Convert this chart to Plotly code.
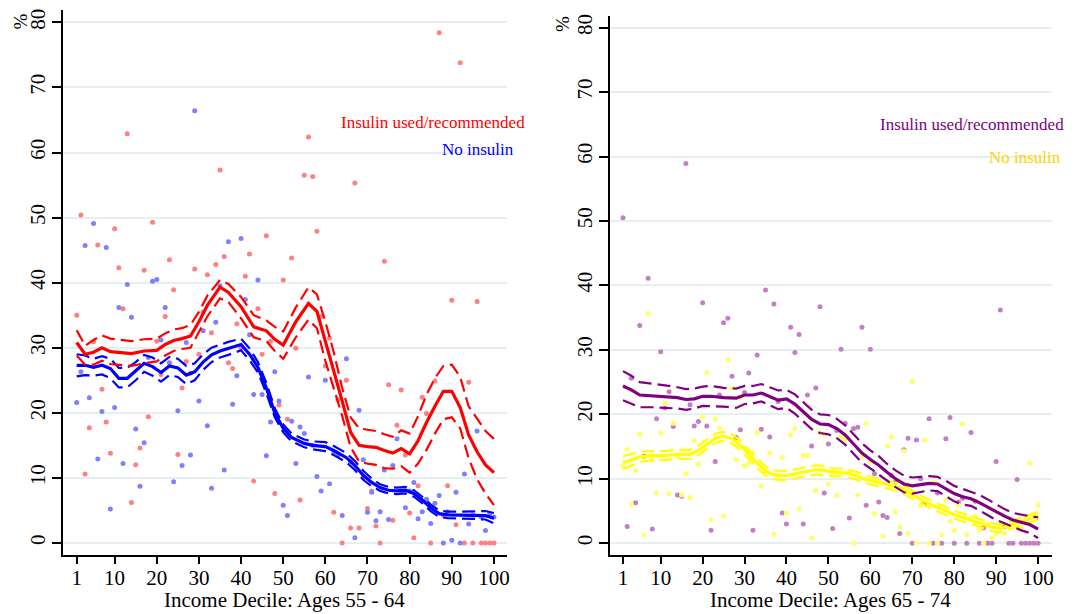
import plotly.graph_objects as go

FONT = "Liberation Serif, Tinos, Times New Roman, DejaVu Serif, serif"

# ---------------- data ----------------
pct = list(range(1, 101))
x_ticks = [1, 10, 20, 30, 40, 50, 60, 70, 80, 90, 100]
y_ticks = [0, 10, 20, 30, 40, 50, 60, 70, 80]

# Ages 55-64, scatter (% per income percentile)
ins_5564 = [35.0, 50.4, 10.6, 17.7, 30.9, 45.8, 23.6, 18.6, 13.8, 48.3,
            42.3, 36.0, 62.9, 6.2, 12.0, 14.6, 41.9, 19.4, 49.3, 31.0,
            25.9, 34.8, 43.5, 38.9, 13.6, 23.8, 27.9, 26.1, 42.1, 29.0,
            35.5, 41.2, 32.3, 42.8, 57.3, 44.0, 27.7, 26.8, 33.7, 30.0,
            41.0, 44.4, 9.5, 36.0, 29.0, 47.2, 31.0, 7.6, 21.2, 40.4,
            19.0, 43.8, 29.9, 6.6, 56.5, 62.4, 56.3, 47.9, 34.8, 27.2,
            31.5, 4.7, 22.0, 0.0, 25.0, 2.3, 55.3, 2.3, 10.0, 5.3,
            8.0, 2.6, 0.0, 43.3, 24.3, 3.5, 18.1, 23.5, 13.5, 4.6,
            0.8, 8.8, 22.4, 19.9, 0.0, 24.9, 78.4, 4.2, 8.8, 37.3,
            2.8, 73.8, 0.0, 24.7, 0.0, 37.1, 0.0, 0.0, 0.0, 0.0]
noins_5564 = [21.6, 26.3, 45.7, 22.3, 49.1, 12.9, 20.2, 45.4, 5.2, 20.8,
              36.2, 12.2, 39.7, 34.7, 17.5, 8.7, 15.4, 28.5, 40.2, 40.5,
              31.2, 36.2, 27.7, 9.4, 20.3, 11.9, 30.8, 13.5, 66.4, 21.8,
              32.6, 18.0, 8.4, 33.9, 39.5, 11.2, 46.3, 21.3, 25.7, 46.8,
              37.4, 32.0, 22.8, 40.4, 22.8, 13.4, 18.6, 26.3, 21.8, 5.8,
              4.2, 18.7, 12.2, 17.8, 16.8, 25.5, 15.0, 10.2, 8.0, 25.0,
              9.1, 14.0, 13.5, 4.2, 28.3, 12.5, 0.8, 20.4, 12.8, 4.7,
              7.8, 3.4, 4.8, 11.2, 3.6, 11.9, 16.0, 8.0, 5.4, 8.0,
              9.3, 3.7, 4.8, 6.7, 3.0, 6.1, 7.3, 0.0, 4.8, 0.4,
              7.8, 0.0, 10.6, 2.9, 4.3, 17.2, 4.0, 1.9, 4.5, 4.0]

# Ages 55-64, smoothed fits with confidence bands
red_x = [1, 3, 5, 7, 9, 11, 14, 17, 20, 22, 24, 26, 28, 30, 32, 35, 37, 40, 43, 46,
         48, 50, 53, 56, 58, 60, 62, 64, 66, 68, 70, 72, 74, 76, 78, 80, 82, 84, 86, 88,
         90, 92, 94, 96, 98, 100]
red_fit = [30.8, 29.0, 29.3, 30.0, 29.4, 29.3, 29.1, 29.5, 29.6, 30.5, 31.1, 31.4, 31.8, 34.0,
           36.5, 39.3, 38.5, 36.3, 33.2, 32.6, 31.3, 30.4, 34.0, 36.8, 35.6, 31.0, 26.5, 21.8,
           17.0, 15.0, 14.8, 14.7, 14.2, 13.8, 14.5, 13.7, 15.7, 18.5, 21.0, 23.3, 23.3, 20.8,
           16.6, 14.0, 12.0, 10.8]
red_hi = [32.7, 30.3, 31.2, 31.9, 31.4, 31.2, 31.0, 31.3, 31.4, 32.2, 32.8, 33.0, 33.5, 35.5,
          38.0, 40.4, 39.8, 37.8, 35.0, 34.2, 33.2, 32.5, 36.2, 39.3, 38.2, 34.0, 29.3, 23.8,
          19.3, 17.6, 17.4, 17.2, 16.7, 16.3, 17.3, 16.8, 19.5, 22.8, 25.3, 27.2, 27.4, 25.5,
          21.0, 19.0, 17.2, 16.0]
red_lo = [28.8, 27.4, 27.4, 28.0, 27.5, 27.4, 27.2, 27.6, 27.9, 28.8, 29.5, 29.8, 30.0, 32.4,
          34.8, 37.6, 37.0, 34.5, 31.6, 31.0, 29.5, 28.3, 31.6, 34.3, 33.0, 28.0, 23.7, 19.5,
          14.7, 12.5, 12.2, 12.0, 11.5, 11.4, 11.8, 10.8, 12.2, 14.3, 16.8, 19.0, 19.3, 17.6,
          13.0, 9.8, 7.6, 5.8]

blue_x = [1, 3, 5, 7, 9, 11, 13, 15, 17, 19, 21, 23, 25, 27, 29, 31, 33, 35, 37, 40,
          42, 44, 46, 48, 50, 52, 55, 57, 60, 62, 65, 67, 69, 71, 73, 75, 77, 79, 81, 83,
          85, 87, 89, 92, 95, 98, 100]
blue_fit = [27.3, 27.3, 27.0, 27.3, 26.8, 25.3, 25.3, 26.4, 27.6, 27.1, 26.2, 27.2, 26.9, 25.8,
            26.3, 27.8, 28.9, 29.5, 29.9, 30.5, 29.0, 27.0, 23.8, 20.0, 17.6, 16.2, 15.3, 15.0,
            14.8, 14.2, 13.1, 11.9, 10.4, 9.3, 8.5, 8.1, 8.0, 8.1, 7.6, 6.6, 5.4, 4.5, 4.3, 4.3,
            4.3, 4.2, 3.8]
blue_hi = [29.0, 28.8, 28.3, 28.7, 28.3, 26.9, 26.9, 27.8, 28.9, 28.5, 27.6, 28.6, 28.3, 27.2,
           27.6, 29.0, 30.0, 30.5, 30.9, 31.4, 29.9, 27.8, 24.6, 20.7, 18.2, 16.8, 15.9, 15.6,
           15.5, 14.9, 13.8, 12.6, 11.1, 9.9, 9.0, 8.6, 8.5, 8.6, 8.1, 7.1, 5.9, 5.0, 4.8, 4.8,
           4.9, 4.9, 4.6]
blue_lo = [25.6, 25.8, 25.7, 25.9, 25.3, 23.9, 23.9, 25.0, 26.3, 25.7, 24.8, 25.8, 25.5, 24.4,
           25.0, 26.6, 27.8, 28.5, 28.9, 29.6, 28.1, 26.2, 23.0, 19.3, 17.0, 15.6, 14.7, 14.4,
           14.1, 13.5, 12.4, 11.2, 9.7, 8.7, 8.0, 7.6, 7.5, 7.6, 7.1, 6.1, 4.9, 4.0, 3.8, 3.8,
           3.7, 3.6, 3.0]

# Ages 65-74, scatter
ins_6574 = [50.5, 2.6, 25.6, 6.3, 33.8, 13.5, 41.1, 2.2, 19.3, 29.7,
            21.0, 23.5, 18.1, 7.5, 7.3, 58.9, 21.5, 18.2, 18.9, 37.3,
            18.2, 2.0, 12.7, 23.0, 34.2, 34.9, 25.9, 16.4, 17.6, 23.4,
            26.4, 2.0, 29.2, 17.7, 39.3, 16.5, 37.1, 22.0, 4.7, 3.0,
            33.5, 29.6, 32.4, 3.0, 23.0, 15.1, 24.1, 36.7, 7.8, 15.4,
            2.3, 17.5, 30.1, 18.6, 3.9, 17.8, 18.0, 33.5, 5.9, 30.1,
            10.8, 6.4, 4.3, 4.0, 10.5, 9.5, 1.5, 14.5, 16.3, 0.0,
            16.0, 10.0, 6.2, 19.3, 0.0, 7.8, 0.0, 16.2, 19.5, 0.0,
            6.4, 7.0, 0.0, 17.2, 6.5, 0.0, 2.4, 0.0, 0.0, 12.7,
            36.2, 2.6, 0.0, 0.0, 9.9, 0.0, 0.0, 0.0, 0.0, 0.0]
noins_6574 = [12.0, 14.6, 6.0, 11.3, 16.9, 1.3, 35.7, 13.0, 7.8, 17.1,
              21.7, 7.7, 18.6, 13.5, 7.5, 10.8, 7.1, 15.9, 12.3, 19.6,
              26.5, 3.6, 19.3, 17.9, 4.2, 28.5, 24.1, 13.0, 22.5, 12.0,
              12.4, 14.0, 17.2, 8.9, 11.0, 14.0, 1.4, 10.5, 13.3, 4.7,
              16.8, 17.8, 5.3, 13.6, 13.6, 0.8, 8.2, 17.1, 16.8, 9.2,
              11.0, 7.4, 16.5, 16.1, 11.0, 0.0, 7.5, 13.5, 18.6, 12.6,
              4.6, 9.5, 1.1, 15.1, 16.5, 4.9, 2.5, 14.3, 1.5, 25.1,
              0.0, 5.8, 16.0, 0.0, 9.5, 0.0, 1.3, 6.7, 3.4, 2.0,
              5.9, 18.5, 1.3, 4.0, 4.2, 2.0, 0.0, 3.0, 0.8, 1.5,
              3.0, 1.5, 2.5, 3.0, 3.5, 2.5, 4.0, 12.4, 4.5, 5.9]

purple_x = [1, 3, 5, 8, 11, 14, 16, 18, 20, 22, 25, 28, 30, 32, 34, 36, 38, 40, 42, 44,
            46, 48, 50, 52, 54, 56, 58, 60, 62, 64, 66, 68, 70, 72, 74, 76, 78, 80, 82, 84,
            86, 88, 90, 92, 94, 96, 98, 100]
purple_fit = [24.4, 23.8, 23.0, 22.9, 22.7, 22.6, 22.3, 22.4, 22.8, 22.8, 22.6, 22.5, 23.0, 23.0,
              23.3, 22.8, 22.2, 22.4, 21.6, 20.4, 19.2, 18.5, 18.4, 17.8, 16.8, 15.4, 14.0, 13.0,
              12.1, 11.0, 10.0, 9.2, 8.9, 9.1, 9.3, 9.2, 8.5, 7.7, 7.2, 6.9, 6.3, 5.6, 4.8, 4.2,
              3.6, 3.2, 2.9, 2.2]
purple_hi = [26.7, 26.0, 25.0, 24.8, 24.5, 24.2, 23.9, 24.0, 24.3, 24.4, 24.1, 24.0, 24.4, 24.4,
             24.7, 24.2, 23.7, 23.8, 23.1, 21.9, 20.7, 20.0, 19.9, 19.3, 18.3, 16.9, 15.5, 14.4,
             13.5, 12.3, 11.3, 10.5, 10.2, 10.3, 10.4, 10.3, 9.7, 8.9, 8.4, 8.0, 7.5, 6.8, 6.0,
             5.3, 4.7, 4.4, 4.2, 4.0]
purple_lo = [22.2, 21.7, 21.1, 21.1, 21.0, 20.9, 20.7, 20.9, 21.3, 21.3, 21.2, 21.0, 21.6, 21.7,
             22.0, 21.4, 20.8, 21.0, 20.1, 18.9, 17.7, 17.1, 16.9, 16.3, 15.3, 13.9, 12.5, 11.6,
             10.7, 9.7, 8.7, 7.9, 7.7, 7.9, 8.2, 8.1, 7.3, 6.5, 6.0, 5.8, 5.1, 4.4, 3.6, 3.1,
             2.5, 2.0, 1.6, 0.8]

yellow_x = [1, 3, 5, 8, 11, 14, 17, 19, 21, 23, 25, 27, 29, 31, 33, 35, 37, 39, 41, 43,
            45, 47, 49, 51, 53, 55, 57, 59, 61, 63, 65, 67, 69, 71, 73, 75, 77, 79, 81, 83,
            85, 87, 89, 91, 93, 95, 97, 99, 100]
yellow_fit = [12.5, 13.0, 13.4, 13.6, 13.6, 13.8, 13.8, 14.4, 15.4, 16.3, 16.6, 16.2, 15.2, 13.8,
              12.4, 11.2, 10.6, 10.5, 10.6, 10.9, 11.2, 11.4, 11.3, 11.0, 11.0, 10.8, 10.4, 9.9,
              9.6, 9.3, 9.0, 8.6, 7.9, 7.2, 6.4, 5.8, 5.3, 4.7, 4.2, 3.8, 3.4, 3.0, 2.5, 2.3,
              2.7, 3.1, 3.5, 4.0, 4.3]
yellow_hi = [13.5, 13.9, 14.2, 14.3, 14.3, 14.5, 14.5, 15.1, 16.1, 17.0, 17.3, 16.9, 15.9, 14.5,
             13.1, 11.9, 11.3, 11.2, 11.3, 11.6, 11.9, 12.1, 12.0, 11.6, 11.6, 11.4, 11.0, 10.5,
             10.2, 9.9, 9.6, 9.2, 8.5, 7.8, 7.0, 6.4, 5.9, 5.3, 4.8, 4.4, 4.0, 3.6, 3.1, 2.9,
             3.3, 3.7, 4.1, 4.6, 4.9]
yellow_lo = [11.5, 12.1, 12.6, 12.9, 12.9, 13.1, 13.1, 13.7, 14.7, 15.6, 15.9, 15.5, 14.5, 13.1,
             11.7, 10.5, 9.9, 9.8, 9.9, 10.2, 10.5, 10.7, 10.6, 10.4, 10.4, 10.2, 9.8, 9.3,
             9.0, 8.7, 8.4, 8.0, 7.3, 6.6, 5.8, 5.2, 4.7, 4.1, 3.6, 3.2, 2.8, 2.4, 1.9, 1.7,
             2.1, 2.5, 2.9, 3.4, 3.7]

# ---------------- figure ----------------
fig = go.Figure()


def add_group(xa, ya, sx, sy, dot_color, lx, fit, hi, lo, line_color, name):
    fig.add_trace(go.Scatter(x=sx, y=sy, mode="markers", xaxis=xa, yaxis=ya,
                             marker=dict(size=5, color=dot_color, line=dict(width=0)),
                             name=name + " (data)", showlegend=False, hoverinfo="x+y"))
    return (xa, ya, lx, fit, hi, lo, line_color, name)


def add_lines(spec):
    xa, ya, lx, fit, hi, lo, line_color, name = spec
    for band in (hi, lo):
        fig.add_trace(go.Scatter(x=lx, y=band, mode="lines", xaxis=xa, yaxis=ya,
                                 line=dict(color=line_color, width=2.2, dash="13px,6px"),
                                 showlegend=False, hoverinfo="skip"))
    fig.add_trace(go.Scatter(x=lx, y=fit, mode="lines", xaxis=xa, yaxis=ya,
                             line=dict(color=line_color, width=3.2),
                             name=name, showlegend=False))


s1 = add_group("x", "y", pct, ins_5564, "#ff8080", red_x, red_fit, red_hi, red_lo, "#ff0000",
               "Insulin used/recommended")
s2 = add_group("x", "y", pct, noins_5564, "#8080ff", blue_x, blue_fit, blue_hi, blue_lo, "#0000ff",
               "No insulin")
s3 = add_group("x2", "y2", pct, ins_6574, "#c47ec4", purple_x, purple_fit, purple_hi, purple_lo,
               "#800080", "Insulin used/recommended")
s4 = add_group("x2", "y2", pct, noins_6574, "#ffff66", yellow_x, yellow_fit, yellow_hi, yellow_lo,
               "#ffff00", "No insulin")
for s in (s2, s1, s4, s3):
    add_lines(s)

# page body has an 8px margin, so the figure is drawn 8px in from the top-left
OFF = 8
W, H = 1075 - OFF, 614 - OFF


def px(v):
    return min(1.0, max(0.0, (v - OFF) / W))


def py(v):
    return min(1.0, max(0.0, 1 - (v - OFF) / H))


axis_common = dict(showline=True, linecolor="black", linewidth=1.5, ticks="outside",
                   tickcolor="black", tickwidth=1.5, zeroline=False,
                   tickfont=dict(family=FONT, size=21, color="black"))

fig.update_layout(
    width=W, height=H, margin=dict(l=0, r=0, t=0, b=0),
    paper_bgcolor="white", plot_bgcolor="white", showlegend=False,
    font=dict(family=FONT, color="black"),
    xaxis=dict(domain=[px(63.4), px(508.4)], range=[-2.19, 103.1], tickvals=x_ticks,
               ticklen=7, ticklabelstandoff=-4, showgrid=False, anchor="y", **axis_common),
    yaxis=dict(domain=[py(555.3), py(8.0)], range=[-1.93, 81.9], tickvals=y_ticks,
               tickangle=-90, ticklen=9, ticklabelstandoff=-1, showgrid=True,
               gridcolor="#e6eff1", gridwidth=1.5, anchor="x", **axis_common),
    xaxis2=dict(domain=[px(611.7), px(1054.7)], range=[-2.09, 103.26], tickvals=x_ticks,
                ticklen=7, ticklabelstandoff=-4, showgrid=False, anchor="y2", **axis_common),
    yaxis2=dict(domain=[py(555.3), py(14)], range=[-1.9, 81.8], tickvals=y_ticks,
                tickangle=-90, ticklen=9, ticklabelstandoff=-1, showgrid=True,
                gridcolor="#e6eff1", gridwidth=1.5, anchor="x2", **axis_common),
)

ann = []
# axis titles
ann.append(dict(text="Income Decile: Ages 55 - 64", x=px(285.7), y=py(599.5), xref="paper",
                yref="paper", xanchor="center", yanchor="middle", showarrow=False,
                font=dict(family=FONT, size=21, color="black")))
ann.append(dict(text="Income Decile: Ages 65 - 74", x=px(833), y=py(599.5), xref="paper",
                yref="paper", xanchor="center", yanchor="middle", showarrow=False,
                font=dict(family=FONT, size=21, color="black")))
# % labels
ann.append(dict(text="%", x=px(21.5), y=py(19), xref="paper", yref="paper", textangle=-90,
                xanchor="center", yanchor="middle", showarrow=False,
                font=dict(family=FONT, size=19, color="black")))
ann.append(dict(text="%", x=px(564), y=py(21.5), xref="paper", yref="paper", textangle=-90,
                xanchor="center", yanchor="middle", showarrow=False,
                font=dict(family=FONT, size=19, color="black")))
# in-plot legends
for txt, xr, yc, col in [("Insulin used/recommended", 528.1, 120.7, "#ff0000"),
                         ("No insulin", 517.0, 147.7, "#0000ff"),
                         ("Insulin used/recommended", 1069.3, 122.7, "#800080"),
                         ("No insulin", 1066.0, 155.7, "#ffd200")]:
    ann.append(dict(text=txt, x=px(xr), y=py(yc), xref="paper", yref="paper",
                    xanchor="right", yanchor="middle", showarrow=False,
                    font=dict(family=FONT, size=17, color=col)))
fig.update_layout(annotations=ann)

fig.write_html("out.html")
